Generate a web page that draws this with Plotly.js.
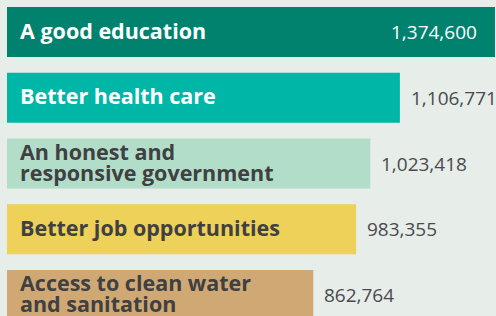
<!DOCTYPE html>
<html>
<head>
<meta charset="utf-8">
<script src="https://cdn.plot.ly/plotly-3.0.1.min.js"></script>
<style>html,body{margin:0;padding:0;background:#e7ede9;}</style>
</head>
<body>
<div id="chart" style="width:496px;height:316px;"></div>
<script>
const categories = ["A good education", "Better health care", "An honest and responsive government", "Better job opportunities", "Access to clean water and sanitation"];
const labelLines = [["A good education"], ["Better health care"], ["An honest and", "responsive government"], ["Better job opportunities"], ["Access to clean water", "and sanitation"]];
const values = [1374600, 1106771, 1023418, 983355, 862764];
const barColors = ["#00826f", "#00b6a7", "#b2ddc9", "#edd158", "#cfa874"];
const labelColors = ["#ffffff", "#ffffff", "#404042", "#404042", "#404042"];
const valueColors = ["#ffffff", "#4a4a4c", "#4a4a4c", "#4a4a4c", "#4a4a4c"];
const valueInside = [true, false, false, false, false];

const trace = {
  type: "bar",
  orientation: "h",
  y: categories,
  x: values,
  marker: { color: barColors, line: { width: 0 } },
  hoverinfo: "none"
};

const annotations = [];
const labelFont = "'Open Sans', sans-serif";
const lineGap = 21;
categories.forEach((c, i) => {
  const lines = labelLines[i];
  lines.forEach((ln, j) => {
    const off = (lines.length - 1) / 2 - j;
    annotations.push({
      xref: "x", yref: "y", x: 0, y: c,
      text: "<b>" + ln + "</b>",
      showarrow: false, xanchor: "left", yanchor: "middle",
      xshift: 11, yshift: off * lineGap + 2,
      font: { family: labelFont, size: 21.5, color: labelColors[i] }
    });
  });
  annotations.push({
    xref: "x", yref: "y", x: values[i], y: c,
    text: values[i].toLocaleString("en-US"),
    showarrow: false,
    xanchor: valueInside[i] ? "right" : "left", yanchor: "middle",
    xshift: valueInside[i] ? -16 : 9, yshift: 0,
    font: { family: labelFont, size: 19, color: valueColors[i] }
  });
});

const layout = {
  width: 496, height: 316,
  margin: { l: 7, r: 0, t: 0, b: 0, pad: 0 },
  paper_bgcolor: "#e7ede9",
  plot_bgcolor: "#e7ede9",
  showlegend: false,
  bargap: 0.24,
  xaxis: { range: [0, 1377500], visible: false, fixedrange: true },
  yaxis: { type: "category", range: [4.319, -0.487], visible: false, fixedrange: true },
  annotations: annotations
};

Plotly.newPlot("chart", [trace], layout, { displayModeBar: false, staticPlot: true });
</script>
</body>
</html>
